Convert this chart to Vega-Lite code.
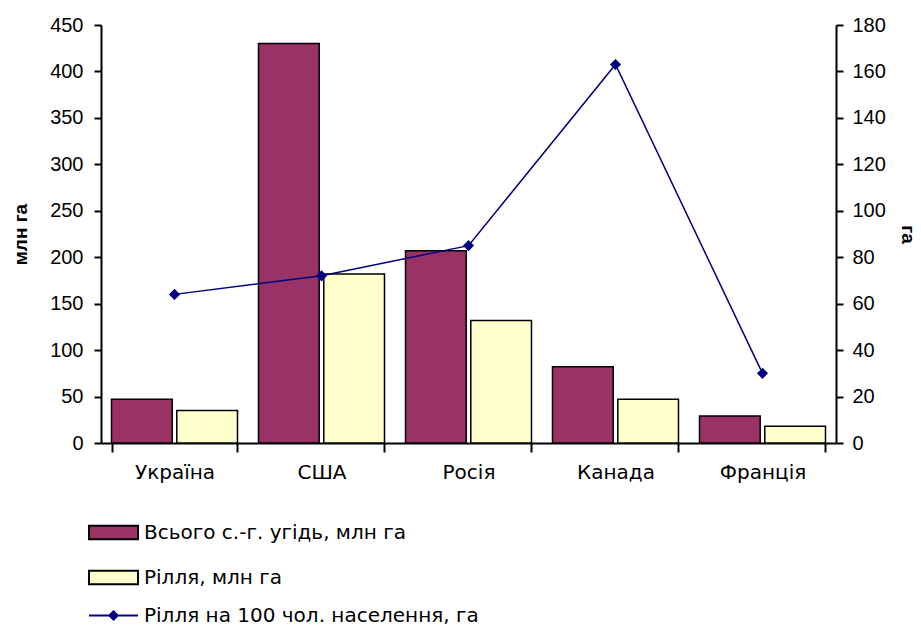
{
  "$schema": "https://vega.github.io/schema/vega-lite/v6.json",
  "autosize": "none",
  "width": 735,
  "height": 418,
  "padding": {"left": 101, "top": 25, "right": 85, "bottom": 183},
  "background": "white",
  "config": {
    "font": "Liberation Sans",
    "view": {"stroke": null},
    "axis": {
      "labelFont": "Liberation Sans",
      "labelFontSize": 20,
      "labelColor": "black",
      "titleFont": "Liberation Sans",
      "titleFontSize": 19,
      "titleColor": "black",
      "domainColor": "black",
      "domainWidth": 2,
      "tickColor": "black",
      "tickWidth": 2,
      "grid": false
    },
    "legend": {
      "labelFont": "DejaVu Sans",
      "labelFontSize": 20,
      "labelColor": "black",
      "labelLimit": 0
    }
  },
  "datasets": {
    "bars": [
      {"country": "Україна", "series": "Всього с.-г. угідь, млн га", "value": 47},
      {"country": "Україна", "series": "Рілля, млн га", "value": 35},
      {"country": "США", "series": "Всього с.-г. угідь, млн га", "value": 430},
      {"country": "США", "series": "Рілля, млн га", "value": 182},
      {"country": "Росія", "series": "Всього с.-г. угідь, млн га", "value": 207},
      {"country": "Росія", "series": "Рілля, млн га", "value": 132},
      {"country": "Канада", "series": "Всього с.-г. угідь, млн га", "value": 82},
      {"country": "Канада", "series": "Рілля, млн га", "value": 47},
      {"country": "Франція", "series": "Всього с.-г. угідь, млн га", "value": 29},
      {"country": "Франція", "series": "Рілля, млн га", "value": 18}
    ],
    "line": [
      {"country": "Україна", "series": "Рілля на 100 чол. населення, га", "value": 64},
      {"country": "США", "series": "Рілля на 100 чол. населення, га", "value": 72},
      {"country": "Росія", "series": "Рілля на 100 чол. населення, га", "value": 85},
      {"country": "Канада", "series": "Рілля на 100 чол. населення, га", "value": 163},
      {"country": "Франція", "series": "Рілля на 100 чол. населення, га", "value": 30}
    ]
  },
  "encoding": {
    "x": {
      "field": "country",
      "type": "nominal",
      "sort": ["Україна", "США", "Росія", "Канада", "Франція"],
      "scale": {"paddingInner": 0.143, "paddingOuter": 0.0715},
      "axis": {
        "title": null,
        "labelAngle": 0,
        "labelFont": "DejaVu Sans",
        "labelFontSize": 20,
        "tickBand": "extent",
        "tickSize": 9,
        "labelPadding": 10
      }
    }
  },
  "layer": [
    {
      "data": {"name": "bars"},
      "mark": {"type": "bar", "stroke": "black", "strokeWidth": 1.5},
      "encoding": {
        "xOffset": {
          "field": "series",
          "type": "nominal",
          "sort": ["Всього с.-г. угідь, млн га", "Рілля, млн га"],
          "scale": {"paddingInner": 0.07}
        },
        "y": {
          "field": "value",
          "type": "quantitative",
          "scale": {"domain": [0, 450], "nice": false},
          "axis": {
            "title": "млн га",
            "titleFontWeight": "bold",
            "values": [0, 50, 100, 150, 200, 250, 300, 350, 400, 450],
            "tickSize": 7,
            "labelPadding": 11,
            "titlePadding": 19
          }
        },
        "fill": {
          "field": "series",
          "type": "nominal",
          "sort": ["Всього с.-г. угідь, млн га", "Рілля, млн га"],
          "scale": {
            "domain": ["Всього с.-г. угідь, млн га", "Рілля, млн га"],
            "range": ["#993366", "#FFFFCC"]
          },
          "legend": {
            "title": null,
            "orient": "none",
            "legendX": -13,
            "legendY": 482,
            "symbolType": "M-1,-0.28H1V0.28H-1Z",
            "symbolSize": 2401,
            "symbolStrokeColor": "black",
            "symbolStrokeWidth": 2,
            "symbolOpacity": 1,
            "rowPadding": 8,
            "labelOffset": 5,
            "padding": 0
          }
        }
      }
    },
    {
      "data": {"name": "line"},
      "mark": {
        "type": "line",
        "strokeWidth": 1.5,
        "point": {"shape": "diamond", "size": 70, "filled": true, "fill": "#000080"}
      },
      "encoding": {
        "y": {
          "field": "value",
          "type": "quantitative",
          "scale": {"domain": [0, 180], "nice": false},
          "axis": {
            "orient": "right",
            "title": "га",
            "titleFontWeight": "bold",
            "values": [0, 20, 40, 60, 80, 100, 120, 140, 160, 180],
            "tickSize": 7,
            "labelPadding": 9,
            "titlePadding": 12
          }
        },
        "stroke": {
          "field": "series",
          "type": "nominal",
          "scale": {
            "domain": ["Рілля на 100 чол. населення, га"],
            "range": ["#000080"]
          },
          "legend": {
            "title": null,
            "orient": "none",
            "legendX": -13,
            "legendY": 565,
            "symbolType": "M-1,0H1M-0.17,0L0,-0.17L0.17,0L0,0.17Z",
            "symbolSize": 2401,
            "symbolFillColor": "#000080",
            "symbolStrokeColor": "#000080",
            "symbolStrokeWidth": 2,
            "labelOffset": 5,
            "padding": 0
          }
        }
      }
    }
  ],
  "resolve": {"scale": {"y": "independent", "fill": "independent", "stroke": "independent"}}
}
